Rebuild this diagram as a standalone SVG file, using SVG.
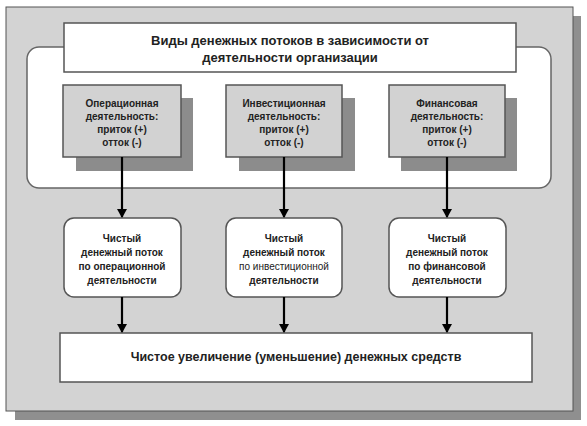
<svg xmlns="http://www.w3.org/2000/svg" width="587" height="426" viewBox="0 0 587 426">
<defs>
<style>
.t{font-family:"Liberation Sans",Arial,sans-serif;font-weight:bold;fill:#222;text-anchor:middle}
.small{font-size:10px}
.big{font-size:13px}
.box{fill:#fff;stroke:#555;stroke-width:1.5}
.gbox{fill:#d2d2d2;stroke:#555;stroke-width:1.5}
.shadow{fill:#8c8c8c}
.arr{stroke:#000;stroke-width:2.2;fill:none;marker-end:url(#ah)}
</style>
<marker id="ah" markerWidth="10" markerHeight="10" refX="8" refY="5" orient="auto" markerUnits="userSpaceOnUse">
<path d="M0,0 L9,5 L0,10 Z" fill="#000"/>
</marker>
</defs>
<rect width="587" height="426" fill="#fff"/>
<g id="panel">
<rect x="15" y="16" width="566" height="404" fill="#8f8f8f"/>
<rect x="6" y="7" width="567" height="404" fill="#d3d3d3" stroke="#555" stroke-width="1"/>
</g>
<g id="container">
<rect x="27" y="47" width="524" height="141" rx="12" ry="12" fill="#fff" stroke="#666" stroke-width="1.5"/>
</g>
<g id="title">
<rect class="box" x="64" y="23" width="452" height="49"/>
<text class="t big" x="290" y="45">Виды денежных потоков в зависимости от</text>
<text class="t big" x="290" y="62">деятельности организации</text>
</g>
<g id="op">
<rect class="shadow" x="76" y="98" width="117" height="73"/>
<rect class="gbox" x="63" y="85" width="118" height="72"/>
<text class="t small" x="122" y="107">Операционная</text>
<text class="t small" x="122" y="120">деятельность:</text>
<text class="t small" x="122" y="133">приток (+)</text>
<text class="t small" x="122" y="146">отток (-)</text>
</g>
<g id="inv">
<rect class="shadow" x="239" y="98" width="116" height="73"/>
<rect class="gbox" x="226" y="85" width="116" height="72"/>
<text class="t small" x="284" y="107">Инвестиционная</text>
<text class="t small" x="284" y="120">деятельность:</text>
<text class="t small" x="284" y="133">приток (+)</text>
<text class="t small" x="284" y="146">отток (-)</text>
</g>
<g id="fin">
<rect class="shadow" x="401" y="98" width="116" height="73"/>
<rect class="gbox" x="389" y="85" width="116" height="72"/>
<text class="t small" x="447" y="107">Финансовая</text>
<text class="t small" x="447" y="120">деятельность:</text>
<text class="t small" x="447" y="133">приток (+)</text>
<text class="t small" x="447" y="146">отток (-)</text>
</g>
<g id="net-op">
<rect class="box" x="64" y="218" width="117" height="79" rx="10" ry="10"/>
<text class="t small" x="122" y="242">Чистый</text>
<text class="t small" x="122" y="256">денежный поток</text>
<text class="t small" x="122" y="270">по операционной</text>
<text class="t small" x="122" y="284">деятельности</text>
</g>
<g id="net-inv">
<rect class="box" x="226" y="218" width="116" height="79" rx="10" ry="10"/>
<text class="t small" x="284" y="242">Чистый</text>
<text class="t small" x="284" y="256">денежный поток</text>
<text class="t small" x="284" y="270" style="font-weight:normal">по инвестиционной</text>
<text class="t small" x="284" y="284">деятельности</text>
</g>
<g id="net-fin">
<rect class="box" x="389" y="218" width="117" height="79" rx="10" ry="10"/>
<text class="t small" x="447" y="242">Чистый</text>
<text class="t small" x="447" y="256">денежный поток</text>
<text class="t small" x="447" y="270">по финансовой</text>
<text class="t small" x="447" y="284">деятельности</text>
</g>
<g id="total">
<rect class="box" x="60" y="333" width="472" height="49"/>
<text class="t" x="296" y="361" style="font-size:12.5px">Чистое увеличение (уменьшение) денежных средств</text>
</g>
<g id="connectors">
<line class="arr" x1="122" y1="157" x2="122" y2="217"/>
<line class="arr" x1="284" y1="157" x2="284" y2="217"/>
<line class="arr" x1="447" y1="157" x2="447" y2="217"/>
<line class="arr" x1="122" y1="297" x2="122" y2="332"/>
<line class="arr" x1="284" y1="297" x2="284" y2="332"/>
<line class="arr" x1="447" y1="297" x2="447" y2="332"/>
</g>
</svg>
